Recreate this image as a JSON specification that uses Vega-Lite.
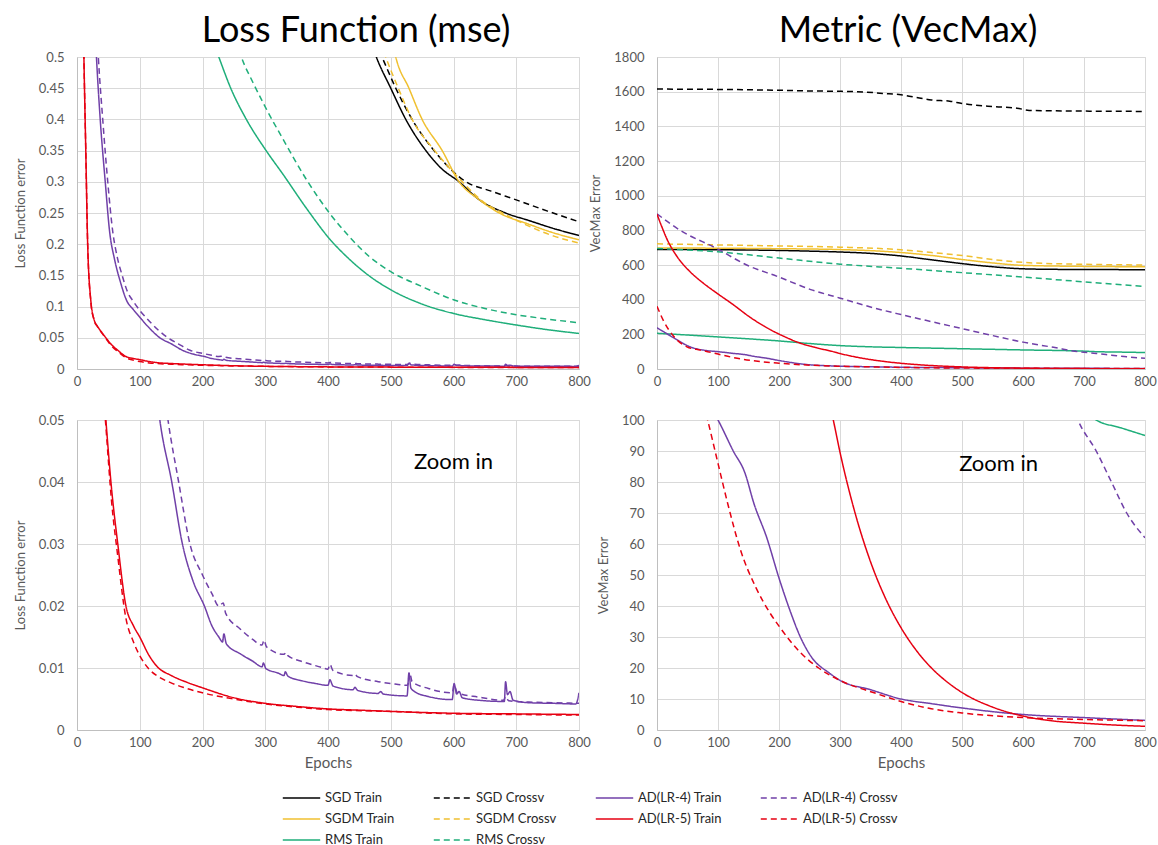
{
  "$schema": "https://vega.github.io/schema/vega-lite/v6.json",
  "padding": {"left": 13, "top": 12, "right": 5, "bottom": 5},
  "background": "white",
  "config": {
    "font": "Lato",
    "view": {"stroke": "#d9d9d9"},
    "axis": {"labelColor": "#595959", "labelFontSize": 13, "titleColor": "#595959", "titleFontWeight": "normal", "titleFontSize": 13, "gridColor": "#d9d9d9", "domainColor": "#bfbfbf", "tickSize": 0, "labelFlush": false, "labelOverlap": false},
    "axisX": {"labelPadding": 6},
    "axisY": {"labelPadding": 13, "titlePadding": 11},
    "title": {"fontSize": 36, "fontWeight": "normal", "color": "#000000", "font": "Lato", "anchor": "middle", "offset": 1},
    "legend": {"orient": "none", "direction": "horizontal", "legendX": 205, "legendY": 733, "columns": 4, "title": null, "symbolType": "stroke", "symbolSize": 1400, "symbolStrokeWidth": 1.5, "labelFontSize": 13, "labelColor": "#262626", "columnPadding": 38, "rowPadding": 5, "clipHeight": 16}
  },
  "datasets": {
    "loss": [
      {"s":"SGD Train","e":440,"v":0.62},{"s":"SGD Train","e":460,"v":0.55},{"s":"SGD Train","e":477,"v":0.5},{"s":"SGD Train","e":500,"v":0.45},{"s":"SGD Train","e":524,"v":0.4},{"s":"SGD Train","e":556,"v":0.35},{"s":"SGD Train","e":580,"v":0.322},{"s":"SGD Train","e":609,"v":0.3},{"s":"SGD Train","e":640,"v":0.272},{"s":"SGD Train","e":683,"v":0.25},{"s":"SGD Train","e":720,"v":0.238},{"s":"SGD Train","e":760,"v":0.225},{"s":"SGD Train","e":800,"v":0.214},
      {"s":"SGD Crossv","e":450,"v":0.6},{"s":"SGD Crossv","e":470,"v":0.535},{"s":"SGD Crossv","e":486,"v":0.5},{"s":"SGD Crossv","e":508,"v":0.45},{"s":"SGD Crossv","e":534,"v":0.4},{"s":"SGD Crossv","e":569,"v":0.35},{"s":"SGD Crossv","e":620,"v":0.3},{"s":"SGD Crossv","e":660,"v":0.285},{"s":"SGD Crossv","e":700,"v":0.271},{"s":"SGD Crossv","e":750,"v":0.253},{"s":"SGD Crossv","e":800,"v":0.236},
      {"s":"SGDM Train","e":490,"v":0.6},{"s":"SGDM Train","e":508,"v":0.5},{"s":"SGDM Train","e":529,"v":0.45},{"s":"SGDM Train","e":550,"v":0.4},{"s":"SGDM Train","e":582,"v":0.35},{"s":"SGDM Train","e":609,"v":0.3},{"s":"SGDM Train","e":640,"v":0.272},{"s":"SGDM Train","e":673,"v":0.25},{"s":"SGDM Train","e":720,"v":0.232},{"s":"SGDM Train","e":760,"v":0.218},{"s":"SGDM Train","e":800,"v":0.207},
      {"s":"SGDM Crossv","e":460,"v":0.6},{"s":"SGDM Crossv","e":492,"v":0.5},{"s":"SGDM Crossv","e":512,"v":0.45},{"s":"SGDM Crossv","e":534,"v":0.4},{"s":"SGDM Crossv","e":570,"v":0.35},{"s":"SGDM Crossv","e":614,"v":0.3},{"s":"SGDM Crossv","e":645,"v":0.27},{"s":"SGDM Crossv","e":678,"v":0.25},{"s":"SGDM Crossv","e":720,"v":0.229},{"s":"SGDM Crossv","e":760,"v":0.213},{"s":"SGDM Crossv","e":800,"v":0.202},
      {"s":"RMS Train","e":190,"v":0.62},{"s":"RMS Train","e":208,"v":0.55},{"s":"RMS Train","e":226,"v":0.5},{"s":"RMS Train","e":245,"v":0.45},{"s":"RMS Train","e":271,"v":0.398},{"s":"RMS Train","e":300,"v":0.352},{"s":"RMS Train","e":329,"v":0.311},{"s":"RMS Train","e":366,"v":0.257},{"s":"RMS Train","e":403,"v":0.208},{"s":"RMS Train","e":434,"v":0.176},{"s":"RMS Train","e":466,"v":0.149},{"s":"RMS Train","e":500,"v":0.127},{"s":"RMS Train","e":550,"v":0.104},{"s":"RMS Train","e":600,"v":0.089},{"s":"RMS Train","e":650,"v":0.079},{"s":"RMS Train","e":700,"v":0.0705},{"s":"RMS Train","e":750,"v":0.063},{"s":"RMS Train","e":800,"v":0.057},
      {"s":"RMS Crossv","e":230,"v":0.62},{"s":"RMS Crossv","e":245,"v":0.56},{"s":"RMS Crossv","e":262,"v":0.5},{"s":"RMS Crossv","e":280,"v":0.46},{"s":"RMS Crossv","e":300,"v":0.42},{"s":"RMS Crossv","e":329,"v":0.367},{"s":"RMS Crossv","e":366,"v":0.303},{"s":"RMS Crossv","e":403,"v":0.249},{"s":"RMS Crossv","e":434,"v":0.212},{"s":"RMS Crossv","e":466,"v":0.18},{"s":"RMS Crossv","e":500,"v":0.156},{"s":"RMS Crossv","e":550,"v":0.132},{"s":"RMS Crossv","e":600,"v":0.111},{"s":"RMS Crossv","e":650,"v":0.097},{"s":"RMS Crossv","e":700,"v":0.087},{"s":"RMS Crossv","e":750,"v":0.08},{"s":"RMS Crossv","e":800,"v":0.074},
      {"s":"AD(LR-4) Train","e":0,"v":1.6},{"s":"AD(LR-4) Train","e":10,"v":1.1},{"s":"AD(LR-4) Train","e":20,"v":0.78},{"s":"AD(LR-4) Train","e":31,"v":0.5},{"s":"AD(LR-4) Train","e":37,"v":0.4},{"s":"AD(LR-4) Train","e":45,"v":0.3},{"s":"AD(LR-4) Train","e":52,"v":0.22},{"s":"AD(LR-4) Train","e":60,"v":0.175},{"s":"AD(LR-4) Train","e":69,"v":0.14},{"s":"AD(LR-4) Train","e":79,"v":0.11},{"s":"AD(LR-4) Train","e":90,"v":0.095},{"s":"AD(LR-4) Train","e":100,"v":0.083},{"s":"AD(LR-4) Train","e":115,"v":0.066},{"s":"AD(LR-4) Train","e":132,"v":0.05},{"s":"AD(LR-4) Train","e":151,"v":0.04},{"s":"AD(LR-4) Train","e":168,"v":0.03},{"s":"AD(LR-4) Train","e":185,"v":0.024},{"s":"AD(LR-4) Train","e":203,"v":0.02},{"s":"AD(LR-4) Train","e":215,"v":0.0168},{"s":"AD(LR-4) Train","e":226,"v":0.015},{"s":"AD(LR-4) Train","e":232,"v":0.0142},{"s":"AD(LR-4) Train","e":234,"v":0.0155},{"s":"AD(LR-4) Train","e":238,"v":0.0139},{"s":"AD(LR-4) Train","e":260,"v":0.0123},{"s":"AD(LR-4) Train","e":280,"v":0.0111},{"s":"AD(LR-4) Train","e":295,"v":0.0102},{"s":"AD(LR-4) Train","e":297,"v":0.0108},{"s":"AD(LR-4) Train","e":301,"v":0.0099},{"s":"AD(LR-4) Train","e":320,"v":0.0092},{"s":"AD(LR-4) Train","e":330,"v":0.0088},{"s":"AD(LR-4) Train","e":332,"v":0.0094},{"s":"AD(LR-4) Train","e":336,"v":0.0087},{"s":"AD(LR-4) Train","e":360,"v":0.0079},{"s":"AD(LR-4) Train","e":380,"v":0.0075},{"s":"AD(LR-4) Train","e":400,"v":0.0072},{"s":"AD(LR-4) Train","e":403,"v":0.0081},{"s":"AD(LR-4) Train","e":408,"v":0.0071},{"s":"AD(LR-4) Train","e":440,"v":0.0065},{"s":"AD(LR-4) Train","e":443,"v":0.0069},{"s":"AD(LR-4) Train","e":447,"v":0.0064},{"s":"AD(LR-4) Train","e":480,"v":0.0059},{"s":"AD(LR-4) Train","e":484,"v":0.0062},{"s":"AD(LR-4) Train","e":488,"v":0.0058},{"s":"AD(LR-4) Train","e":526,"v":0.0055},{"s":"AD(LR-4) Train","e":529,"v":0.0092},{"s":"AD(LR-4) Train","e":532,"v":0.0068},{"s":"AD(LR-4) Train","e":538,"v":0.0062},{"s":"AD(LR-4) Train","e":560,"v":0.0054},{"s":"AD(LR-4) Train","e":598,"v":0.0049},{"s":"AD(LR-4) Train","e":601,"v":0.0075},{"s":"AD(LR-4) Train","e":605,"v":0.0058},{"s":"AD(LR-4) Train","e":609,"v":0.0062},{"s":"AD(LR-4) Train","e":614,"v":0.0052},{"s":"AD(LR-4) Train","e":640,"v":0.0048},{"s":"AD(LR-4) Train","e":681,"v":0.0046},{"s":"AD(LR-4) Train","e":683,"v":0.0078},{"s":"AD(LR-4) Train","e":686,"v":0.0057},{"s":"AD(LR-4) Train","e":690,"v":0.0062},{"s":"AD(LR-4) Train","e":695,"v":0.0048},{"s":"AD(LR-4) Train","e":720,"v":0.0044},{"s":"AD(LR-4) Train","e":760,"v":0.0043},{"s":"AD(LR-4) Train","e":795,"v":0.0042},{"s":"AD(LR-4) Train","e":800,"v":0.006},
      {"s":"AD(LR-4) Crossv","e":0,"v":1.7},{"s":"AD(LR-4) Crossv","e":10,"v":1.2},{"s":"AD(LR-4) Crossv","e":22,"v":0.78},{"s":"AD(LR-4) Crossv","e":34,"v":0.5},{"s":"AD(LR-4) Crossv","e":41,"v":0.4},{"s":"AD(LR-4) Crossv","e":49,"v":0.3},{"s":"AD(LR-4) Crossv","e":57,"v":0.22},{"s":"AD(LR-4) Crossv","e":64,"v":0.18},{"s":"AD(LR-4) Crossv","e":72,"v":0.15},{"s":"AD(LR-4) Crossv","e":80,"v":0.125},{"s":"AD(LR-4) Crossv","e":90,"v":0.108},{"s":"AD(LR-4) Crossv","e":100,"v":0.094},{"s":"AD(LR-4) Crossv","e":115,"v":0.077},{"s":"AD(LR-4) Crossv","e":130,"v":0.062},{"s":"AD(LR-4) Crossv","e":145,"v":0.05},{"s":"AD(LR-4) Crossv","e":162,"v":0.04},{"s":"AD(LR-4) Crossv","e":180,"v":0.03},{"s":"AD(LR-4) Crossv","e":200,"v":0.025},{"s":"AD(LR-4) Crossv","e":215,"v":0.022},{"s":"AD(LR-4) Crossv","e":226,"v":0.02},{"s":"AD(LR-4) Crossv","e":233,"v":0.0205},{"s":"AD(LR-4) Crossv","e":237,"v":0.0188},{"s":"AD(LR-4) Crossv","e":260,"v":0.0163},{"s":"AD(LR-4) Crossv","e":280,"v":0.0146},{"s":"AD(LR-4) Crossv","e":295,"v":0.0137},{"s":"AD(LR-4) Crossv","e":298,"v":0.0145},{"s":"AD(LR-4) Crossv","e":302,"v":0.0134},{"s":"AD(LR-4) Crossv","e":330,"v":0.0122},{"s":"AD(LR-4) Crossv","e":333,"v":0.0125},{"s":"AD(LR-4) Crossv","e":336,"v":0.012},{"s":"AD(LR-4) Crossv","e":360,"v":0.011},{"s":"AD(LR-4) Crossv","e":390,"v":0.0101},{"s":"AD(LR-4) Crossv","e":400,"v":0.0098},{"s":"AD(LR-4) Crossv","e":403,"v":0.0106},{"s":"AD(LR-4) Crossv","e":408,"v":0.0096},{"s":"AD(LR-4) Crossv","e":440,"v":0.0088},{"s":"AD(LR-4) Crossv","e":443,"v":0.009},{"s":"AD(LR-4) Crossv","e":447,"v":0.0086},{"s":"AD(LR-4) Crossv","e":480,"v":0.0078},{"s":"AD(LR-4) Crossv","e":500,"v":0.0075},{"s":"AD(LR-4) Crossv","e":527,"v":0.0072},{"s":"AD(LR-4) Crossv","e":530,"v":0.0093},{"s":"AD(LR-4) Crossv","e":534,"v":0.0078},{"s":"AD(LR-4) Crossv","e":560,"v":0.0067},{"s":"AD(LR-4) Crossv","e":598,"v":0.006},{"s":"AD(LR-4) Crossv","e":601,"v":0.0073},{"s":"AD(LR-4) Crossv","e":606,"v":0.006},{"s":"AD(LR-4) Crossv","e":640,"v":0.0053},{"s":"AD(LR-4) Crossv","e":680,"v":0.0048},{"s":"AD(LR-4) Crossv","e":683,"v":0.0054},{"s":"AD(LR-4) Crossv","e":688,"v":0.0047},{"s":"AD(LR-4) Crossv","e":720,"v":0.0045},{"s":"AD(LR-4) Crossv","e":760,"v":0.0044},{"s":"AD(LR-4) Crossv","e":800,"v":0.0043},
      {"s":"AD(LR-5) Train","e":0,"v":1.5},{"s":"AD(LR-5) Train","e":5,"v":0.9},{"s":"AD(LR-5) Train","e":9,"v":0.62},{"s":"AD(LR-5) Train","e":11,"v":0.5},{"s":"AD(LR-5) Train","e":14,"v":0.35},{"s":"AD(LR-5) Train","e":17,"v":0.2},{"s":"AD(LR-5) Train","e":22,"v":0.11},{"s":"AD(LR-5) Train","e":27,"v":0.08},{"s":"AD(LR-5) Train","e":33,"v":0.068},{"s":"AD(LR-5) Train","e":40,"v":0.058},{"s":"AD(LR-5) Train","e":46,"v":0.05},{"s":"AD(LR-5) Train","e":55,"v":0.039},{"s":"AD(LR-5) Train","e":65,"v":0.03},{"s":"AD(LR-5) Train","e":78,"v":0.02},{"s":"AD(LR-5) Train","e":90,"v":0.0168},{"s":"AD(LR-5) Train","e":100,"v":0.015},{"s":"AD(LR-5) Train","e":115,"v":0.012},{"s":"AD(LR-5) Train","e":128,"v":0.0102},{"s":"AD(LR-5) Train","e":150,"v":0.0088},{"s":"AD(LR-5) Train","e":175,"v":0.0077},{"s":"AD(LR-5) Train","e":200,"v":0.0068},{"s":"AD(LR-5) Train","e":250,"v":0.0052},{"s":"AD(LR-5) Train","e":300,"v":0.0043},{"s":"AD(LR-5) Train","e":350,"v":0.0038},{"s":"AD(LR-5) Train","e":400,"v":0.0034},{"s":"AD(LR-5) Train","e":450,"v":0.0032},{"s":"AD(LR-5) Train","e":500,"v":0.003},{"s":"AD(LR-5) Train","e":600,"v":0.0027},{"s":"AD(LR-5) Train","e":700,"v":0.0026},{"s":"AD(LR-5) Train","e":800,"v":0.0025},
      {"s":"AD(LR-5) Crossv","e":0,"v":1.5},{"s":"AD(LR-5) Crossv","e":5,"v":0.9},{"s":"AD(LR-5) Crossv","e":9,"v":0.62},{"s":"AD(LR-5) Crossv","e":11,"v":0.5},{"s":"AD(LR-5) Crossv","e":14,"v":0.35},{"s":"AD(LR-5) Crossv","e":17,"v":0.2},{"s":"AD(LR-5) Crossv","e":22,"v":0.108},{"s":"AD(LR-5) Crossv","e":27,"v":0.079},{"s":"AD(LR-5) Crossv","e":33,"v":0.067},{"s":"AD(LR-5) Crossv","e":40,"v":0.057},{"s":"AD(LR-5) Crossv","e":46,"v":0.049},{"s":"AD(LR-5) Crossv","e":55,"v":0.037},{"s":"AD(LR-5) Crossv","e":65,"v":0.028},{"s":"AD(LR-5) Crossv","e":78,"v":0.018},{"s":"AD(LR-5) Crossv","e":90,"v":0.0142},{"s":"AD(LR-5) Crossv","e":100,"v":0.012},{"s":"AD(LR-5) Crossv","e":115,"v":0.0098},{"s":"AD(LR-5) Crossv","e":128,"v":0.0087},{"s":"AD(LR-5) Crossv","e":150,"v":0.0076},{"s":"AD(LR-5) Crossv","e":175,"v":0.0067},{"s":"AD(LR-5) Crossv","e":200,"v":0.006},{"s":"AD(LR-5) Crossv","e":250,"v":0.005},{"s":"AD(LR-5) Crossv","e":300,"v":0.0042},{"s":"AD(LR-5) Crossv","e":350,"v":0.0037},{"s":"AD(LR-5) Crossv","e":400,"v":0.0033},{"s":"AD(LR-5) Crossv","e":500,"v":0.003},{"s":"AD(LR-5) Crossv","e":600,"v":0.0026},{"s":"AD(LR-5) Crossv","e":700,"v":0.0025},{"s":"AD(LR-5) Crossv","e":800,"v":0.0024}
    ],
    "vec": [
      {"s":"SGD Train","e":0,"v":690},{"s":"SGD Train","e":100,"v":688},{"s":"SGD Train","e":200,"v":684},{"s":"SGD Train","e":250,"v":680},{"s":"SGD Train","e":300,"v":675},{"s":"SGD Train","e":350,"v":667},{"s":"SGD Train","e":400,"v":652},{"s":"SGD Train","e":450,"v":630},{"s":"SGD Train","e":500,"v":608},{"s":"SGD Train","e":550,"v":590},{"s":"SGD Train","e":600,"v":578},{"s":"SGD Train","e":650,"v":575},{"s":"SGD Train","e":700,"v":574},{"s":"SGD Train","e":800,"v":573},
      {"s":"SGD Crossv","e":0,"v":1615},{"s":"SGD Crossv","e":100,"v":1613},{"s":"SGD Crossv","e":200,"v":1608},{"s":"SGD Crossv","e":250,"v":1604},{"s":"SGD Crossv","e":300,"v":1602},{"s":"SGD Crossv","e":340,"v":1598},{"s":"SGD Crossv","e":370,"v":1590},{"s":"SGD Crossv","e":400,"v":1582},{"s":"SGD Crossv","e":420,"v":1570},{"s":"SGD Crossv","e":450,"v":1552},{"s":"SGD Crossv","e":480,"v":1545},{"s":"SGD Crossv","e":500,"v":1532},{"s":"SGD Crossv","e":550,"v":1514},{"s":"SGD Crossv","e":590,"v":1505},{"s":"SGD Crossv","e":610,"v":1492},{"s":"SGD Crossv","e":700,"v":1488},{"s":"SGD Crossv","e":800,"v":1486},
      {"s":"SGDM Train","e":0,"v":698},{"s":"SGDM Train","e":100,"v":697},{"s":"SGDM Train","e":200,"v":694},{"s":"SGDM Train","e":300,"v":689},{"s":"SGDM Train","e":400,"v":672},{"s":"SGDM Train","e":450,"v":655},{"s":"SGDM Train","e":500,"v":632},{"s":"SGDM Train","e":550,"v":612},{"s":"SGDM Train","e":600,"v":598},{"s":"SGDM Train","e":700,"v":592},{"s":"SGDM Train","e":800,"v":590},
      {"s":"SGDM Crossv","e":0,"v":722},{"s":"SGDM Crossv","e":100,"v":716},{"s":"SGDM Crossv","e":200,"v":710},{"s":"SGDM Crossv","e":300,"v":703},{"s":"SGDM Crossv","e":400,"v":688},{"s":"SGDM Crossv","e":450,"v":672},{"s":"SGDM Crossv","e":500,"v":655},{"s":"SGDM Crossv","e":550,"v":632},{"s":"SGDM Crossv","e":600,"v":615},{"s":"SGDM Crossv","e":700,"v":604},{"s":"SGDM Crossv","e":800,"v":600},
      {"s":"RMS Train","e":0,"v":206},{"s":"RMS Train","e":50,"v":196},{"s":"RMS Train","e":100,"v":185},{"s":"RMS Train","e":150,"v":174},{"s":"RMS Train","e":200,"v":162},{"s":"RMS Train","e":250,"v":147},{"s":"RMS Train","e":300,"v":135},{"s":"RMS Train","e":350,"v":128},{"s":"RMS Train","e":400,"v":124},{"s":"RMS Train","e":500,"v":117},{"s":"RMS Train","e":600,"v":110},{"s":"RMS Train","e":700,"v":103},{"s":"RMS Train","e":720,"v":100},{"s":"RMS Train","e":760,"v":97.5},{"s":"RMS Train","e":800,"v":95},
      {"s":"RMS Crossv","e":0,"v":695},{"s":"RMS Crossv","e":100,"v":676},{"s":"RMS Crossv","e":200,"v":640},{"s":"RMS Crossv","e":300,"v":605},{"s":"RMS Crossv","e":400,"v":581},{"s":"RMS Crossv","e":500,"v":556},{"s":"RMS Crossv","e":600,"v":530},{"s":"RMS Crossv","e":700,"v":503},{"s":"RMS Crossv","e":800,"v":476},
      {"s":"AD(LR-4) Train","e":0,"v":238},{"s":"AD(LR-4) Train","e":27,"v":181},{"s":"AD(LR-4) Train","e":54,"v":128},{"s":"AD(LR-4) Train","e":82,"v":106},{"s":"AD(LR-4) Train","e":100,"v":100},{"s":"AD(LR-4) Train","e":125,"v":90},{"s":"AD(LR-4) Train","e":144,"v":83},{"s":"AD(LR-4) Train","e":159,"v":73},{"s":"AD(LR-4) Train","e":180,"v":62},{"s":"AD(LR-4) Train","e":200,"v":49},{"s":"AD(LR-4) Train","e":219,"v":38},{"s":"AD(LR-4) Train","e":235,"v":30},{"s":"AD(LR-4) Train","e":253,"v":23.6},{"s":"AD(LR-4) Train","e":283,"v":18.3},{"s":"AD(LR-4) Train","e":300,"v":16},{"s":"AD(LR-4) Train","e":350,"v":13},{"s":"AD(LR-4) Train","e":400,"v":10},{"s":"AD(LR-4) Train","e":450,"v":8.5},{"s":"AD(LR-4) Train","e":500,"v":7.1},{"s":"AD(LR-4) Train","e":600,"v":5},{"s":"AD(LR-4) Train","e":700,"v":4},{"s":"AD(LR-4) Train","e":800,"v":3.1},
      {"s":"AD(LR-4) Crossv","e":0,"v":895},{"s":"AD(LR-4) Crossv","e":38,"v":800},{"s":"AD(LR-4) Crossv","e":98,"v":695},{"s":"AD(LR-4) Crossv","e":147,"v":600},{"s":"AD(LR-4) Crossv","e":198,"v":533},{"s":"AD(LR-4) Crossv","e":255,"v":455},{"s":"AD(LR-4) Crossv","e":299,"v":410},{"s":"AD(LR-4) Crossv","e":353,"v":355},{"s":"AD(LR-4) Crossv","e":400,"v":314},{"s":"AD(LR-4) Crossv","e":450,"v":273},{"s":"AD(LR-4) Crossv","e":500,"v":233},{"s":"AD(LR-4) Crossv","e":550,"v":193},{"s":"AD(LR-4) Crossv","e":600,"v":155},{"s":"AD(LR-4) Crossv","e":650,"v":125},{"s":"AD(LR-4) Crossv","e":690,"v":100},{"s":"AD(LR-4) Crossv","e":720,"v":90},{"s":"AD(LR-4) Crossv","e":745,"v":80},{"s":"AD(LR-4) Crossv","e":770,"v":70},{"s":"AD(LR-4) Crossv","e":800,"v":62},
      {"s":"AD(LR-5) Train","e":0,"v":893},{"s":"AD(LR-5) Train","e":8,"v":820},{"s":"AD(LR-5) Train","e":16,"v":752},{"s":"AD(LR-5) Train","e":33,"v":648},{"s":"AD(LR-5) Train","e":54,"v":562},{"s":"AD(LR-5) Train","e":76,"v":495},{"s":"AD(LR-5) Train","e":98,"v":438},{"s":"AD(LR-5) Train","e":125,"v":371},{"s":"AD(LR-5) Train","e":152,"v":300},{"s":"AD(LR-5) Train","e":179,"v":240},{"s":"AD(LR-5) Train","e":207,"v":190},{"s":"AD(LR-5) Train","e":234,"v":150},{"s":"AD(LR-5) Train","e":262,"v":122},{"s":"AD(LR-5) Train","e":289,"v":100},{"s":"AD(LR-5) Train","e":300,"v":89.6},{"s":"AD(LR-5) Train","e":325,"v":69.8},{"s":"AD(LR-5) Train","e":350,"v":54.3},{"s":"AD(LR-5) Train","e":375,"v":42.3},{"s":"AD(LR-5) Train","e":400,"v":33},{"s":"AD(LR-5) Train","e":425,"v":25.7},{"s":"AD(LR-5) Train","e":450,"v":20},{"s":"AD(LR-5) Train","e":475,"v":15.6},{"s":"AD(LR-5) Train","e":500,"v":12.1},{"s":"AD(LR-5) Train","e":550,"v":7.4},{"s":"AD(LR-5) Train","e":600,"v":4.5},{"s":"AD(LR-5) Train","e":650,"v":2.9},{"s":"AD(LR-5) Train","e":700,"v":2.2},{"s":"AD(LR-5) Train","e":750,"v":1.6},{"s":"AD(LR-5) Train","e":800,"v":1.2},
      {"s":"AD(LR-5) Crossv","e":0,"v":362},{"s":"AD(LR-5) Crossv","e":11,"v":276},{"s":"AD(LR-5) Crossv","e":27,"v":190},{"s":"AD(LR-5) Crossv","e":49,"v":128},{"s":"AD(LR-5) Crossv","e":71,"v":109},{"s":"AD(LR-5) Crossv","e":83,"v":100},{"s":"AD(LR-5) Crossv","e":100,"v":86},{"s":"AD(LR-5) Crossv","e":116,"v":73},{"s":"AD(LR-5) Crossv","e":137,"v":58},{"s":"AD(LR-5) Crossv","e":162,"v":46},{"s":"AD(LR-5) Crossv","e":186,"v":37.5},{"s":"AD(LR-5) Crossv","e":200,"v":33.5},{"s":"AD(LR-5) Crossv","e":235,"v":25},{"s":"AD(LR-5) Crossv","e":265,"v":20},{"s":"AD(LR-5) Crossv","e":300,"v":16},{"s":"AD(LR-5) Crossv","e":356,"v":12},{"s":"AD(LR-5) Crossv","e":400,"v":9.2},{"s":"AD(LR-5) Crossv","e":446,"v":7},{"s":"AD(LR-5) Crossv","e":500,"v":5.5},{"s":"AD(LR-5) Crossv","e":600,"v":4},{"s":"AD(LR-5) Crossv","e":700,"v":3.4},{"s":"AD(LR-5) Crossv","e":800,"v":3}
    ]
  },
  "columns": 2,
  "bounds": "flush",
  "spacing": {"row": 51, "column": 78},
  "concat": [
    {
      "width": 502, "height": 312,
      "title": {"text": "Loss Function (mse)", "dx": 28},
      "data": {"name": "loss"},
      "mark": {"type": "line", "strokeWidth": 1.5, "clip": true, "interpolate": "monotone"},
      "encoding": {
        "x": {"field": "e", "type": "quantitative", "scale": {"domain": [0, 800], "nice": false}, "axis": {"values": [0,100,200,300,400,500,600,700,800], "title": null}},
        "y": {"field": "v", "type": "quantitative", "scale": {"domain": [0, 0.5], "nice": false}, "axis": {"values": [0,0.05,0.1,0.15,0.2,0.25,0.3,0.35,0.4,0.45,0.5], "format": "~g", "title": "Loss Function error", "labelOverlap": false}},
        "color": {"field": "s", "type": "nominal", "scale": {"domain": ["SGD Train","SGD Crossv","AD(LR-4) Train","AD(LR-4) Crossv","SGDM Train","SGDM Crossv","AD(LR-5) Train","AD(LR-5) Crossv","RMS Train","RMS Crossv"], "range": ["#000000","#000000","#7040a8","#7040a8","#f0c030","#f0c030","#e60012","#e60012","#1fae7a","#1fae7a"]}},
        "strokeDash": {"field": "s", "type": "nominal", "scale": {"domain": ["SGD Train","SGD Crossv","AD(LR-4) Train","AD(LR-4) Crossv","SGDM Train","SGDM Crossv","AD(LR-5) Train","AD(LR-5) Crossv","RMS Train","RMS Crossv"], "range": [[1,0],[6,4],[1,0],[6,4],[1,0],[6,4],[1,0],[6,4],[1,0],[6,4]]}}
      }
    },
    {
      "width": 488, "height": 312,
      "title": {"text": "Metric (VecMax)", "dx": 7},
      "data": {"name": "vec"},
      "mark": {"type": "line", "strokeWidth": 1.5, "clip": true, "interpolate": "monotone"},
      "encoding": {
        "x": {"field": "e", "type": "quantitative", "scale": {"domain": [0, 800], "nice": false}, "axis": {"values": [0,100,200,300,400,500,600,700,800], "title": null}},
        "y": {"field": "v", "type": "quantitative", "scale": {"domain": [0, 1800], "nice": false}, "axis": {"values": [0,200,400,600,800,1000,1200,1400,1600,1800], "format": "d", "title": "VecMax Error", "labelOverlap": false}},
        "color": {"field": "s", "type": "nominal", "scale": {"domain": ["SGD Train","SGD Crossv","AD(LR-4) Train","AD(LR-4) Crossv","SGDM Train","SGDM Crossv","AD(LR-5) Train","AD(LR-5) Crossv","RMS Train","RMS Crossv"], "range": ["#000000","#000000","#7040a8","#7040a8","#f0c030","#f0c030","#e60012","#e60012","#1fae7a","#1fae7a"]}},
        "strokeDash": {"field": "s", "type": "nominal", "scale": {"domain": ["SGD Train","SGD Crossv","AD(LR-4) Train","AD(LR-4) Crossv","SGDM Train","SGDM Crossv","AD(LR-5) Train","AD(LR-5) Crossv","RMS Train","RMS Crossv"], "range": [[1,0],[6,4],[1,0],[6,4],[1,0],[6,4],[1,0],[6,4],[1,0],[6,4]]}}
      }
    },
    {
      "width": 502, "height": 310,
      "encoding": {
        "x": {"field": "e", "type": "quantitative", "scale": {"domain": [0, 800], "nice": false}, "axis": {"values": [0,100,200,300,400,500,600,700,800], "title": "Epochs", "titleFontSize": 15, "titlePadding": 6}},
        "y": {"field": "v", "type": "quantitative", "scale": {"domain": [0, 0.05], "nice": false}, "axis": {"values": [0,0.01,0.02,0.03,0.04,0.05], "format": "~g", "title": "Loss Function error", "labelOverlap": false}}
      },
      "layer": [
        {
          "data": {"name": "loss"},
          "mark": {"type": "line", "strokeWidth": 1.5, "clip": true, "interpolate": "monotone"},
          "encoding": {
            "color": {"field": "s", "type": "nominal", "scale": {"domain": ["SGD Train","SGD Crossv","AD(LR-4) Train","AD(LR-4) Crossv","SGDM Train","SGDM Crossv","AD(LR-5) Train","AD(LR-5) Crossv","RMS Train","RMS Crossv"], "range": ["#000000","#000000","#7040a8","#7040a8","#f0c030","#f0c030","#e60012","#e60012","#1fae7a","#1fae7a"]}},
            "strokeDash": {"field": "s", "type": "nominal", "scale": {"domain": ["SGD Train","SGD Crossv","AD(LR-4) Train","AD(LR-4) Crossv","SGDM Train","SGDM Crossv","AD(LR-5) Train","AD(LR-5) Crossv","RMS Train","RMS Crossv"], "range": [[1,0],[6,4],[1,0],[6,4],[1,0],[6,4],[1,0],[6,4],[1,0],[6,4]]}}
          }
        },
        {
          "data": {"values": [{"e": 600, "v": 0.0433, "t": "Zoom in"}]},
          "mark": {"type": "text", "fontSize": 22, "color": "#000000", "align": "center", "baseline": "middle"},
          "encoding": {"text": {"field": "t"}}
        }
      ]
    },
    {
      "width": 488, "height": 310,
      "encoding": {
        "x": {"field": "e", "type": "quantitative", "scale": {"domain": [0, 800], "nice": false}, "axis": {"values": [0,100,200,300,400,500,600,700,800], "title": "Epochs", "titleFontSize": 15, "titlePadding": 6}},
        "y": {"field": "v", "type": "quantitative", "scale": {"domain": [0, 100], "nice": false}, "axis": {"values": [0,10,20,30,40,50,60,70,80,90,100], "format": "d", "title": "VecMax Error", "labelOverlap": false}}
      },
      "layer": [
        {
          "data": {"name": "vec"},
          "mark": {"type": "line", "strokeWidth": 1.5, "clip": true, "interpolate": "monotone"},
          "encoding": {
            "color": {"field": "s", "type": "nominal", "scale": {"domain": ["SGD Train","SGD Crossv","AD(LR-4) Train","AD(LR-4) Crossv","SGDM Train","SGDM Crossv","AD(LR-5) Train","AD(LR-5) Crossv","RMS Train","RMS Crossv"], "range": ["#000000","#000000","#7040a8","#7040a8","#f0c030","#f0c030","#e60012","#e60012","#1fae7a","#1fae7a"]}},
            "strokeDash": {"field": "s", "type": "nominal", "scale": {"domain": ["SGD Train","SGD Crossv","AD(LR-4) Train","AD(LR-4) Crossv","SGDM Train","SGDM Crossv","AD(LR-5) Train","AD(LR-5) Crossv","RMS Train","RMS Crossv"], "range": [[1,0],[6,4],[1,0],[6,4],[1,0],[6,4],[1,0],[6,4],[1,0],[6,4]]}}
          }
        },
        {
          "data": {"values": [{"e": 560, "v": 85.9, "t": "Zoom in"}]},
          "mark": {"type": "text", "fontSize": 22, "color": "#000000", "align": "center", "baseline": "middle"},
          "encoding": {"text": {"field": "t"}}
        }
      ]
    }
  ]
}
